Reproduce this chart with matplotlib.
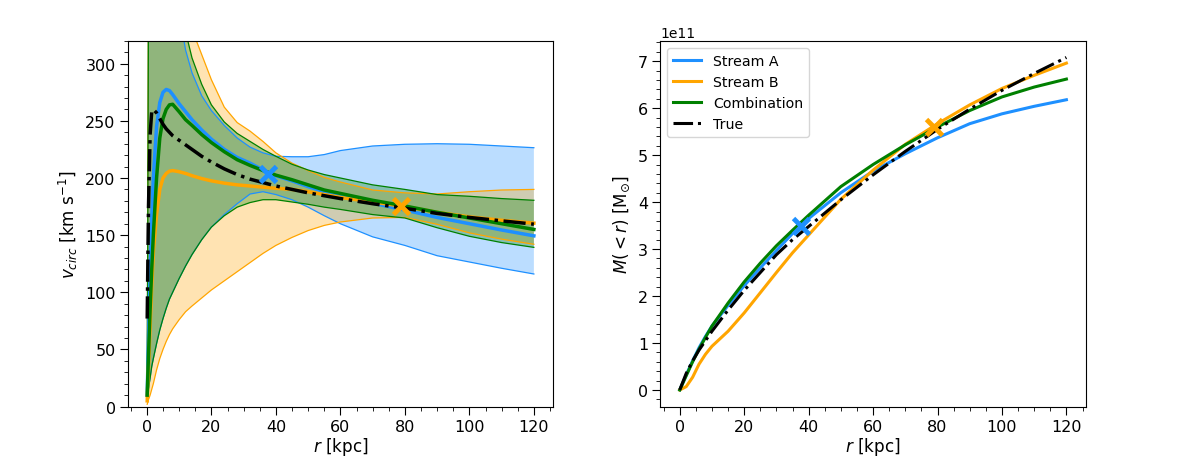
import numpy as np
import matplotlib
matplotlib.use('Agg')
import matplotlib.pyplot as plt

# circular velocity curves [km/s] on a common radius grid [kpc]
r_v = np.array([0.1, 0.5, 1, 1.5, 2, 3, 4, 5, 6, 7, 8, 10, 12, 14, 17, 20, 24, 28,
                32, 36, 40, 45, 50, 55, 60, 70, 80, 90, 100, 110, 120])

v_true = [77, 175, 238, 258, 260, 257, 252, 247, 243, 240, 237, 233, 229, 225, 219, 214,
          208, 203, 199, 196, 193, 190, 187, 184.5, 182, 177.5, 173.5, 169, 165.5, 162.5, 159.6]

v_a = [10, 60, 115, 165, 200, 245, 266, 275, 277.5, 276.5, 273, 265, 258, 251, 242, 234,
       225, 218, 213, 207, 202, 197.5, 192.5, 188, 184.5, 178, 172, 165.5, 160, 154.5, 149.4]
v_a_hi = [10, 350, 700, 720, 720, 700, 640, 570, 510, 455, 400, 345, 312, 292, 272, 259,
          246, 235, 227, 222, 219, 218.6, 218.6, 220.5, 224, 228, 229.5, 230, 229.5, 228, 226.5]
v_a_lo = [10, 16, 25, 35, 42, 55, 67, 77, 86, 94, 100, 112, 123, 133, 146, 157,
          168, 177.5, 186, 188, 185.5, 181, 174.5, 167, 160, 148.5, 141, 132, 126.5, 121, 116]

v_b = [5, 35, 70, 105, 135, 168, 190, 200, 204, 206, 206.5, 205.5, 204, 202, 199.5, 197.5,
       195.5, 194, 193, 192, 191, 190, 188, 185.5, 183, 179, 175, 170, 166, 163, 160.5]
v_b_hi = [5, 400, 800, 820, 800, 720, 640, 570, 510, 460, 420, 385, 355, 330, 308, 286,
          262, 248.5, 241, 232, 222, 213, 206.5, 200.5, 196.5, 189.5, 187, 186, 188, 189.5, 190]
v_b_lo = [2, 6, 10, 15, 20, 32, 42, 50, 57, 63, 68, 76, 83, 88, 95, 102,
          110, 118, 126, 134, 141, 148, 154, 158.5, 161.5, 165, 165.5, 159.5, 152, 146.5, 142]

v_c = [10, 45, 85, 120, 150, 200, 235, 252, 260, 264, 264.5, 258, 251, 246, 238, 231,
       223, 216, 211, 206.5, 202.5, 198.5, 194, 189.5, 186.5, 180.5, 175.5, 170, 165, 160, 155]
v_c_hi = [10, 350, 700, 720, 720, 700, 645, 580, 520, 470, 425, 365, 328, 305, 282, 264,
          249, 239, 232, 225, 219, 212, 207, 203, 200, 194, 190, 185.5, 184, 182, 180.5]
v_c_lo = [10, 16, 25, 35, 42, 55, 67, 77, 86, 94, 100, 112, 123, 133, 146, 157,
          167, 174.5, 178.5, 181, 181, 179, 177, 174.5, 172.5, 168, 165, 156.5, 149, 143.5, 139.3]

# enclosed mass [1e11 Msun]
r_m = np.array([0, 2, 4, 6, 8, 10, 15, 20, 25, 30, 35, 40, 50, 60, 70, 80, 90, 100, 110, 120])
m_true = [0, 0.35, 0.62, 0.85, 1.05, 1.25, 1.7, 2.12, 2.5, 2.88, 3.2, 3.48, 4.05, 4.58,
          5.08, 5.55, 5.98, 6.38, 6.74, 7.08]
m_a = [0, 0.32, 0.62, 0.9, 1.14, 1.36, 1.8, 2.22, 2.6, 2.97, 3.33, 3.65, 4.2, 4.66,
       5.03, 5.37, 5.67, 5.88, 6.04, 6.18]
m_b = [0, 0.07, 0.27, 0.55, 0.76, 0.93, 1.25, 1.64, 2.07, 2.5, 2.92, 3.3, 4.06, 4.68,
       5.23, 5.67, 6.07, 6.42, 6.7, 6.96]
m_c = [0, 0.3, 0.6, 0.87, 1.12, 1.36, 1.85, 2.3, 2.7, 3.07, 3.4, 3.72, 4.33, 4.8,
       5.22, 5.6, 5.95, 6.24, 6.45, 6.62]

# stream positions (progenitor radius)
r_sat = [37.6, 78.8]
v_sat = [203.5, 175.5]
m_sat = [3.5, 5.6]

col_a, col_b, col_c = 'dodgerblue', 'orange', 'green'

fig, (ax1, ax2) = plt.subplots(1, 2, figsize=(11.84, 4.6), dpi=100)
plt.subplots_adjust(left=0.108, right=0.917, bottom=0.114, top=0.909, wspace=0.252)

for lo, hi, c in [(v_a_lo, v_a_hi, col_a), (v_b_lo, v_b_hi, col_b), (v_c_lo, v_c_hi, col_c)]:
    ax1.fill_between(r_v, lo, hi, color=c, alpha=0.3, lw=0)
    ax1.plot(r_v, lo, color=c, lw=0.9)
    ax1.plot(r_v, hi, color=c, lw=0.9)

ax1.plot(r_v, v_a, color=col_a, lw=2.5)
ax1.plot(r_v, v_b, color=col_b, lw=2.5)
ax1.plot(r_v, v_c, color=col_c, lw=2.5)
ax1.plot(r_v, v_true, 'k-.', lw=2.5)
ax1.plot(r_sat[0], v_sat[0], 'x', color=col_a, ms=11, mew=3.5)
ax1.plot(r_sat[1], v_sat[1], 'x', color=col_b, ms=11, mew=3.5)
ax1.set_ylim(0, 320)
ax1.set_xlabel(r'$r$ [kpc]', fontsize=12.1, labelpad=1)
ax1.set_ylabel(r'$v_{circ}$ [km s$^{-1}$]', fontsize=12.1)

ax2.plot(r_m, np.array(m_a) * 1e11, color=col_a, lw=2.2, label='Stream A')
ax2.plot(r_m, np.array(m_b) * 1e11, color=col_b, lw=2.2, label='Stream B')
ax2.plot(r_m, np.array(m_c) * 1e11, color=col_c, lw=2.2, label='Combination')
ax2.plot(r_m, np.array(m_true) * 1e11, 'k-.', lw=2.2, label='True')
ax2.plot(r_sat[0], m_sat[0] * 1e11, 'x', color=col_a, ms=11, mew=3.5)
ax2.plot(r_sat[1], m_sat[1] * 1e11, 'x', color=col_b, ms=11, mew=3.5)
ax2.set_xlabel(r'$r$ [kpc]', fontsize=12.1, labelpad=1)
ax2.set_ylabel(r'$M(<r)$ [M$_{\odot}$]', fontsize=12.1)
ax2.legend(loc='upper left', fontsize=10.2)
ax2.yaxis.get_offset_text().set_fontsize(10)

for ax in (ax1, ax2):
    ax.minorticks_on()
    ax.tick_params(which='major', length=5.8, labelsize=11.5, pad=3)
    ax.tick_params(which='minor', length=3.2)

plt.savefig('out.png', dpi=100)
